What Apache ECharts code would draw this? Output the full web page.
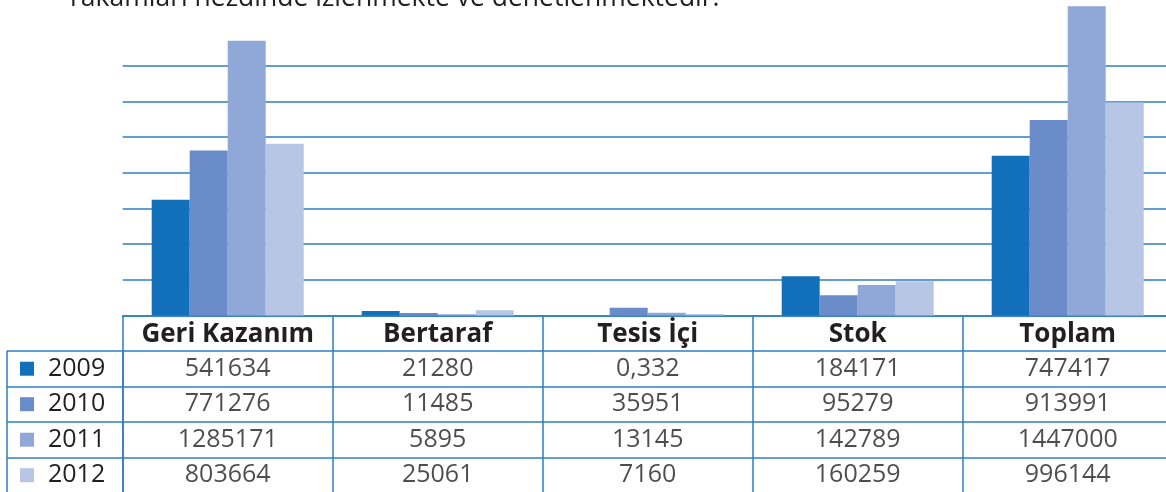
<!DOCTYPE html>
<html><head><meta charset="utf-8">
<script src="https://cdn.jsdelivr.net/npm/echarts@6/dist/echarts.min.js"></script>
<style>html,body{margin:0;padding:0;background:#fff}#c{width:1166px;height:492px}</style>
</head><body><div id="c"></div>
<script>
const categories = ['Geri Kazanım', 'Bertaraf', 'Tesis İçi', 'Stok', 'Toplam'];
const years = ['2009', '2010', '2011', '2012'];
const v2009 = [541634, 21280, 0.332, 184171, 747417];
const v2010 = [771276, 11485, 35951, 95279, 913991];
const v2011 = [1285171, 5895, 13145, 142789, 1447000];
const v2012 = [803664, 25061, 7160, 160259, 996144];
const tableText = [
  ['541634', '21280', '0,332', '184171', '747417'],
  ['771276', '11485', '35951', '95279', '913991'],
  ['1285171', '5895', '13145', '142789', '1447000'],
  ['803664', '25061', '7160', '160259', '996144']
];
const yInterval = 167000;
const yMax = 7 * yInterval;
const colors = ['#1270BA', '#6A8CC8', '#8FA8D7', '#B6C6E4'];
const lineBlue = '#2E7DC5';
const txt = '#231f20';
const FONT = '"Open Sans", "Noto Sans", sans-serif';

const chart = echarts.init(document.getElementById('c'));
const seriesVals = [v2009, v2010, v2011, v2012];
const barSeries = years.map((y, i) => ({
  name: y, type: 'bar', xAxisIndex: 0, yAxisIndex: 0,
  data: seriesVals[i], barWidth: 38, barGap: '0%', clip: false,
  itemStyle: { color: colors[i] }, silent: true
}));
const cellData = [];
tableText.forEach((row, r) => row.forEach((t, c) => cellData.push({ value: [c, r], label: { formatter: t } })));

chart.setOption({
  animation: false,
  textStyle: { fontFamily: FONT },
  graphic: [{
    type: 'text', left: 70, top: -15.5,
    style: { text: 'rakamları nezdinde izlenmekte ve denetlenmektedir.', fontSize: 26.5, fill: txt, fontFamily: FONT }
  }],
  legend: {
    data: years, orient: 'vertical', left: 20, top: 356.2, padding: 0,
    itemWidth: 14, itemHeight: 14, itemGap: 10.5, icon: 'rect', selectedMode: false,
    textStyle: { fontSize: 25, lineHeight: 25, color: txt, fontFamily: FONT, padding: [0, 0, 0, 9] }
  },
  grid: [
    { left: 122.7, width: 1050, top: 65.6, height: 249.9, outerBoundsMode: 'none', containLabel: false },
    { left: 122.7, width: 1050, top: 350.8, height: 142, outerBoundsMode: 'none', containLabel: false },
    { left: 7, width: 116, top: 350.8, height: 142, outerBoundsMode: 'none', containLabel: false }
  ],
  xAxis: [
    { type: 'category', gridIndex: 0, data: categories,
      axisLine: { lineStyle: { color: lineBlue, width: 1.5 } },
      axisTick: { show: true, interval: 0, length: 36, lineStyle: { color: lineBlue, width: 1.5 } },
      axisLabel: { interval: 0, margin: 6, fontSize: 26, fontWeight: 'bold', color: txt, fontFamily: FONT } },
    { type: 'category', gridIndex: 1, data: categories,
      axisLine: { show: false }, axisTick: { show: false }, axisLabel: { show: false },
      splitLine: { show: true, interval: 0, lineStyle: { color: lineBlue, width: 1.5 } } },
    { type: 'category', gridIndex: 2, data: [''],
      axisLine: { show: false }, axisTick: { show: false }, axisLabel: { show: false },
      splitLine: { show: true, interval: 0, lineStyle: { color: lineBlue, width: 1.5 } } }
  ],
  yAxis: [
    { type: 'value', gridIndex: 0, min: 0, max: yMax, interval: yInterval,
      axisLine: { show: false }, axisTick: { show: false }, axisLabel: { show: false },
      splitLine: { show: true, lineStyle: { color: lineBlue, width: 1.5 } } },
    { type: 'category', gridIndex: 1, data: years, inverse: true,
      axisLine: { show: false }, axisTick: { show: false }, axisLabel: { show: false },
      splitLine: { show: true, interval: 0, lineStyle: { color: lineBlue, width: 1.5 } } },
    { type: 'category', gridIndex: 2, data: years, inverse: true,
      axisLine: { show: false }, axisTick: { show: false }, axisLabel: { show: false },
      splitLine: { show: true, interval: 0, lineStyle: { color: lineBlue, width: 1.5 } } }
  ],
  series: barSeries.concat([{
    type: 'scatter', xAxisIndex: 1, yAxisIndex: 1, symbol: 'rect', symbolSize: [200, 30],
    itemStyle: { color: 'rgba(0,0,0,0)' }, silent: true,
    label: { show: true, position: 'inside', fontSize: 25, color: txt, fontFamily: FONT },
    data: cellData
  }])
});
</script></body></html>
